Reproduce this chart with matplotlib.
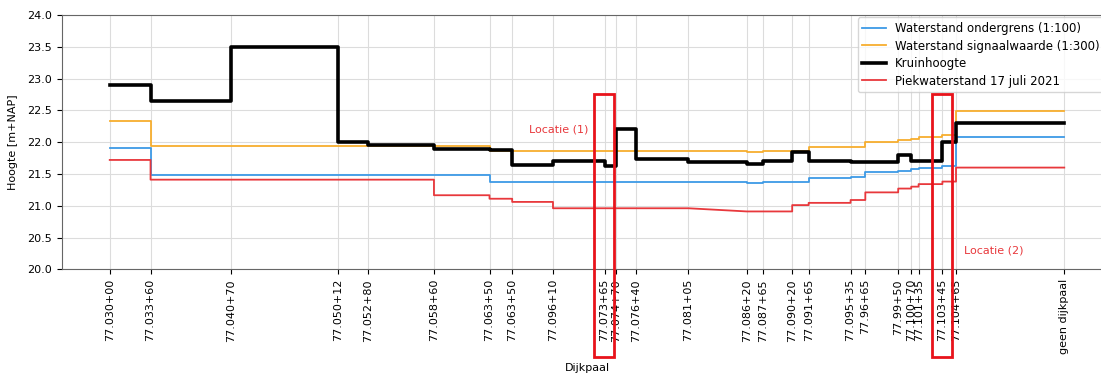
import matplotlib
matplotlib.use("Agg")
import matplotlib.pyplot as plt
from matplotlib.patches import Rectangle

# ---- data ----
dijkpaal_labels = ["77.030+00", "77.033+60", "77.040+70", "77.050+12", "77.052+80",
                   "77.058+60", "77.063+50", "77.063+50", "77.096+10", "77.073+65",
                   "77.074+70", "77.076+40", "77.081+05", "77.086+20", "77.087+65",
                   "77.090+20", "77.091+65", "77.095+35", "77.96+65", "77.99+50",
                   "77.100+70", "77.101+35", "77.103+45", "77.104+65", "geen dijkpaal"]
afstand = [0, 360, 1070, 2012, 2280, 2860, 3350, 3550, 3910, 4365, 4470, 4640, 5105,
           5620, 5765, 6020, 6165, 6535, 6665, 6955, 7070, 7135, 7345, 7465, 8420]

# values per section (step, value holds from this dijkpaal to the next)
ondergrens = [21.91, 21.49, 21.49, 21.49, 21.49, 21.49, 21.37, 21.37, 21.37, 21.37,
              21.37, 21.37, 21.37, 21.35, 21.37, 21.37, 21.43, 21.455, 21.53, 21.55,
              21.57, 21.60, 21.63, 22.08, 22.08]
signaalwaarde = [22.33, 21.94, 21.94, 21.94, 21.94, 21.94, 21.86, 21.86, 21.86, 21.86,
                 21.86, 21.86, 21.86, 21.85, 21.86, 21.86, 21.93, 21.93, 22.00, 22.04,
                 22.05, 22.08, 22.11, 22.49, 22.49]
kruinhoogte = [22.90, 22.65, 23.50, 22.00, 21.95, 21.89, 21.87, 21.64, 21.71, 21.63,
               22.20, 21.73, 21.69, 21.66, 21.70, 21.85, 21.71, 21.68, 21.68, 21.80,
               21.70, 21.70, 22.00, 22.30, 22.30]
# peak water level per section: value at start and at end of each section
piek_begin = [21.72, 21.41, 21.41, 21.41, 21.41, 21.165, 21.11, 21.06, 20.96, 20.96,
              20.96, 20.96, 20.96, 20.91, 20.91, 21.01, 21.045, 21.09, 21.21, 21.27,
              21.30, 21.34, 21.38, 21.60]
piek_eind = [21.72, 21.41, 21.41, 21.41, 21.41, 21.165, 21.11, 21.06, 20.96, 20.96,
             20.96, 20.96, 20.91, 20.91, 20.91, 21.01, 21.045, 21.09, 21.21, 21.27,
             21.30, 21.34, 21.38, 21.60]

# marked locations (range along dike) and annotation labels
locaties = [(4268, 4445), (7255, 7432)]
locatie_labels = ["Locatie (1)", "Locatie (2)"]
locatie_tekst_pos = [(3960, 22.20), (7795, 20.30)]

# ---- plot ----
plt.rcParams['font.family'] = ['DejaVu Sans']
fs = 8

fig = plt.figure(figsize=(11.01, 3.73), dpi=100)
ax = fig.add_axes([62 / 1101, (373 - 269.3) / 373, 1050 / 1101, 254.3 / 373])

blue = '#3d9ae6'
orange = '#f7ae2e'
red = '#e8383c'

l1, = ax.step(afstand, ondergrens, where='post', color=blue, lw=1.3, zorder=3)
l2, = ax.step(afstand, signaalwaarde, where='post', color=orange, lw=1.3, zorder=3)

px, py = [], []
for i in range(len(piek_begin)):
    px += [afstand[i], afstand[i + 1]]
    py += [piek_begin[i], piek_eind[i]]
l4, = ax.plot(px, py, color=red, lw=1.3, zorder=3)
l3, = ax.step(afstand, kruinhoogte, where='post', color='black', lw=2.6, zorder=4)

ax.set_ylim(20.0, 24.0)
ax.set_yticks([20.0, 20.5, 21.0, 21.5, 22.0, 22.5, 23.0, 23.5, 24.0])
ax.set_xticks(afstand)
ax.set_xticklabels(dijkpaal_labels, rotation=90, fontsize=fs)
ax.tick_params(axis='y', labelsize=fs)
ax.grid(True, color='#dcdcdc', lw=0.8)
ax.set_axisbelow(True)
ax.set_ylabel("Hoogte [m+NAP]", fontsize=fs, labelpad=7)
ax.set_xlabel("Dijkpaal", fontsize=fs, labelpad=6)
for s in ax.spines.values():
    s.set_color('#666666')

ax.legend([l1, l2, l3, l4],
          ["Waterstand ondergrens (1:100)", "Waterstand signaalwaarde (1:300)",
           "Kruinhoogte", "Piekwaterstand 17 juli 2021"],
          loc='upper right', bbox_to_anchor=(1.0 - 5 / 1050, 1.0),
          fontsize=8.5, borderaxespad=0.2, labelspacing=0.38)

for (x0, x1), lab, (tx, ty) in zip(locaties, locatie_labels, locatie_tekst_pos):
    r = Rectangle((x0, 18.62), x1 - x0, 22.756 - 18.62, fill=False,
                  edgecolor='#e8131b', lw=2.0, clip_on=False, zorder=6)
    ax.add_patch(r)
    ax.text(tx, ty, lab, color=red, fontsize=fs, ha='center', va='center', zorder=6)

fig.savefig("out.png", dpi=100)
